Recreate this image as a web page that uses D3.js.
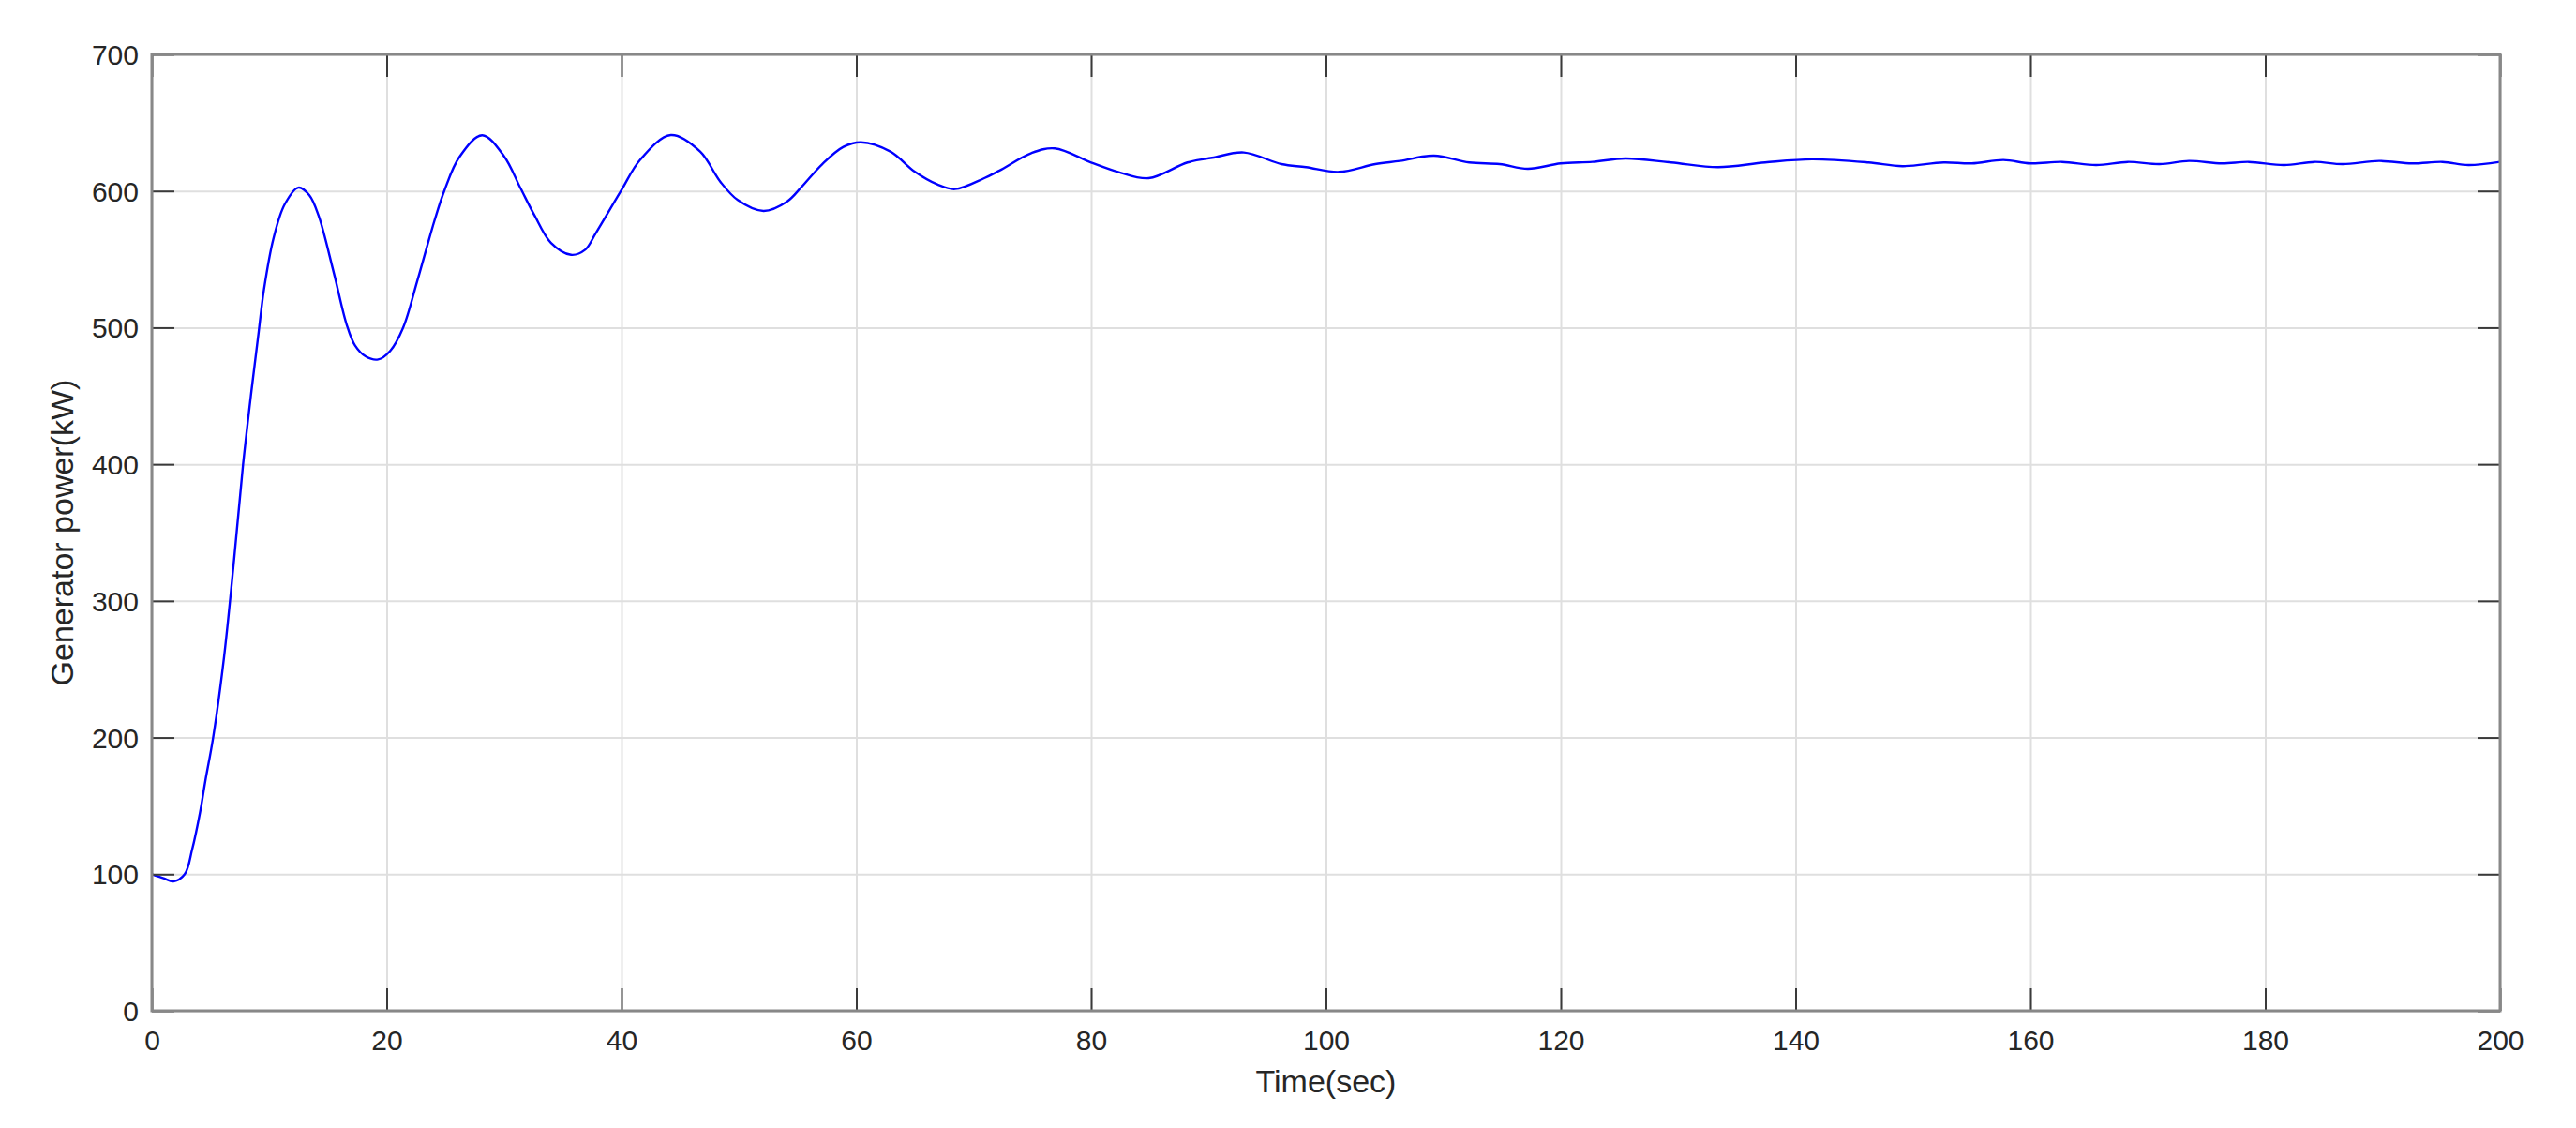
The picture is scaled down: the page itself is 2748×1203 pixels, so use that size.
<!DOCTYPE html>
<html>
<head>
<meta charset="utf-8">
<script src="https://cdn.jsdelivr.net/npm/d3@7"></script>
<style>
  html, body { margin: 0; padding: 0; background: #fff; }
  svg { display: block; }
  text { font-family: "Liberation Sans", Arial, Helvetica, sans-serif; fill: #262626; }
</style>
</head>
<body>
<script>
// ---- data ----
const timeSec = [0, 1, 1.84, 2.8, 3.43, 4.1, 4.55, 5.22, 6.15, 7.0, 7.77, 8.5, 9.1, 9.55, 10.35, 11.3, 12.48,
  13.4, 14.2, 15.5, 16.6, 17.3, 18.2, 19.27, 20.3, 21.4, 22.6, 24.06, 24.9, 26.2, 28.13,
  30.0, 31.4, 32.6, 34.0, 35.7, 36.9, 37.8, 39.95, 41.6, 44.2,
  46.7, 48.4, 49.9, 52.1, 54.1, 55.3, 57.1, 58.9, 60.4,
  62.9, 65.0, 66.9, 68.4, 70.9, 72.2, 74.9, 76.9,
  80.0, 82.3, 84.9, 88.2, 90.3, 93.0, 96.2, 98.3, 101.1, 104.2, 106.3, 109.2, 112.2, 114.8,
  117.2, 120.0, 122.7, 125.5, 129.4, 133.4, 137.4, 141.4, 146.2, 149.1, 152.6, 155.0,
  157.7, 160.0, 162.7, 165.6, 168.3, 171.0, 173.5, 176.3, 178.6, 181.6, 184.2, 186.6,
  189.7, 192.5, 195.1, 197.3, 200];
const powerKW = [100, 97, 94.7, 100, 118, 145, 168, 200, 259, 330, 400, 455, 497, 528, 565, 590, 602.5,
  597, 582, 540, 502, 487, 479, 476.7, 483, 500, 534, 578, 600, 625, 640.8,
  625.4, 602, 582, 562, 553.3, 557, 569, 600, 623, 641,
  628.9, 607, 593.4, 585.4, 592.3, 602.6, 619.7, 632.3, 635.7,
  628.9, 614, 604.8, 601.4, 609.4, 615, 627.7, 631.2,
  620.9, 614, 609.4, 620.9, 624.3, 628.2, 619.7, 617.5, 614.0, 619.7, 622, 625.9, 620.9, 619.7,
  616.3, 620.2, 621.3, 623.8, 620.9, 617.5, 620.9, 623.2, 620.9, 618.2, 620.9, 620.2,
  622.7, 620.2, 621.3, 619.0, 621.3, 619.7, 622.0, 620.2, 621.3, 619.0, 621.3, 619.7,
  622.0, 620.2, 621.3, 619.0, 621.3];
const xTicks = [0, 20, 40, 60, 80, 100, 120, 140, 160, 180, 200];
const yTicks = [0, 100, 200, 300, 400, 500, 600, 700];
const xLabel = "Time(sec)";
const yLabel = "Generator power(kW)";

// ---- layout ----
const W = 2748, H = 1203;
const L = 162, R = 2667, T = 58, B = 1078;
const w = R - L, h = B - T;

const svg = d3.select("body").append("svg").attr("width", W).attr("height", H);
const x = d3.scaleLinear().domain([0, 200]).range([0, w]);
const y = d3.scaleLinear().domain([0, 700]).range([h, 0]);

const g = svg.append("g").attr("transform", `translate(${L},${T})`);

// grid
g.append("g").attr("transform", `translate(0,${h})`)
  .call(d3.axisBottom(x).tickValues(xTicks).tickSize(-h).tickFormat(""))
  .call(s => { s.select(".domain").remove(); s.selectAll("line").attr("stroke", "#dfdfdf").attr("stroke-width", 2); });
g.append("g")
  .call(d3.axisLeft(y).tickValues(yTicks).tickSize(-w).tickFormat(""))
  .call(s => { s.select(".domain").remove(); s.selectAll("line").attr("stroke", "#dfdfdf").attr("stroke-width", 2); });

// line
const line = d3.line().x((d, i) => x(timeSec[i])).y(d => y(d)).curve(d3.curveCatmullRom.alpha(0.5));
g.append("path").datum(powerKW).attr("d", line)
  .attr("fill", "none").attr("stroke", "#0000ff").attr("stroke-width", 2.4);

// axes (inward ticks)
function styleAxis(s) {
  s.select(".domain").remove();
  s.selectAll("line").attr("stroke", "#3a3a3a").attr("stroke-width", 2);
  s.selectAll("text").attr("font-size", 30).attr("fill", "#262626")
    .attr("font-family", '"Liberation Sans", Arial, sans-serif');
}
g.append("g").attr("transform", `translate(0,${h})`)
  .call(d3.axisBottom(x).tickValues(xTicks).tickSize(-24).tickPadding(21).tickFormat(d3.format("d")))
  .call(styleAxis);
g.append("g")
  .call(d3.axisLeft(y).tickValues(yTicks).tickSize(-24).tickPadding(14).tickFormat(d3.format("d")))
  .call(styleAxis)
  .call(s => s.selectAll("text").attr("dy", "0.35em"));
g.append("g")
  .call(d3.axisTop(x).tickValues(xTicks).tickSize(-24).tickFormat(""))
  .call(styleAxis);
g.append("g").attr("transform", `translate(${w},0)`)
  .call(d3.axisRight(y).tickValues(yTicks).tickSize(-24).tickFormat(""))
  .call(styleAxis);

// box
g.append("rect").attr("x", 0).attr("y", 0).attr("width", w).attr("height", h)
  .attr("fill", "none").attr("stroke", "#888888").attr("stroke-width", 3);

// labels
svg.append("text").attr("x", L + w / 2).attr("y", 1165).attr("text-anchor", "middle")
  .attr("font-size", 34).text(xLabel);
svg.append("text").attr("transform", `translate(78,${T + h / 2}) rotate(-90)`)
  .attr("text-anchor", "middle").attr("font-size", 34).text(yLabel);
</script>
</body>
</html>
